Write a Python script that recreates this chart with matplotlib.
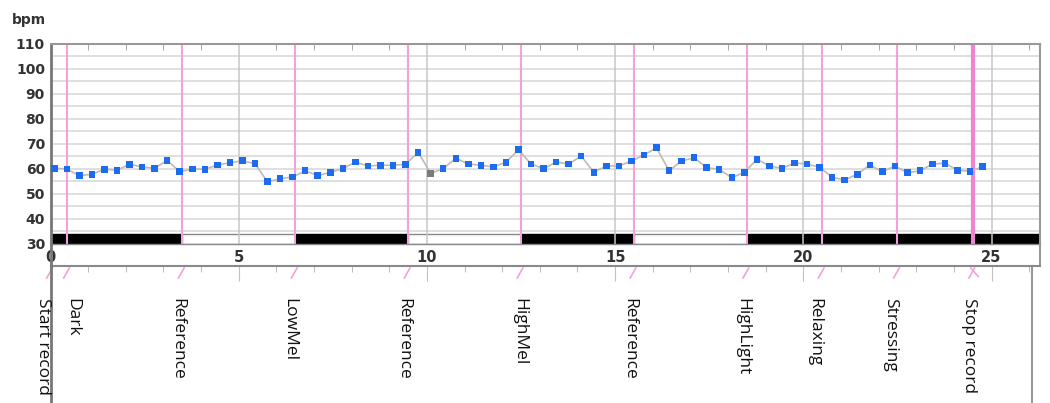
import numpy as np
import matplotlib
matplotlib.use('Agg')
import matplotlib.pyplot as plt
from matplotlib.lines import Line2D
from matplotlib.patches import Rectangle

# ---------------- data ----------------
bpm = [60.1, 59.8, 57.1, 57.7, 59.7, 59.3, 61.7, 60.6, 60.1, 63.3, 58.7, 59.8, 59.7, 61.4, 62.3, 63.1,
       61.9, 54.7, 55.9, 56.6, 59.1, 57.1, 58.5, 59.9, 62.6, 61.0, 61.3, 61.3, 61.7, 66.5, 58.1, 59.9,
       64.1, 61.8, 61.3, 60.6, 62.5, 67.5, 61.8, 59.9, 62.6, 61.8, 65.0, 58.5, 61.0, 61.0, 63.0, 65.4,
       68.3, 59.1, 63.0, 64.3, 60.3, 59.7, 56.3, 58.5, 63.7, 61.0, 60.1, 62.2, 61.8, 60.5, 56.5, 55.4,
       57.7, 61.4, 58.7, 61.0, 58.3, 59.1, 61.8, 62.1, 59.3, 58.9, 60.7]
t_start = 0.1          # minutes
t_step = 1.0 / 3.0     # one sample every 20 s
grey_index = 30        # the one grey (artefact) sample

event_names = ['Start record', 'Dark', 'Reference', 'LowMel', 'Reference', 'HighMel',
               'Reference', 'HighLight', 'Relaxing', 'Stressing', 'Stop record']
event_times = [0.0, 0.45, 3.5, 6.5, 9.5, 12.5, 15.5, 18.5, 20.5, 22.5, 24.5]

bar_starts = [0.0, 3.5, 6.5, 9.5, 12.5, 15.5, 18.5]
bar_ends = [3.5, 6.5, 9.5, 12.5, 15.5, 18.5, 26.3]
bar_colors = ['black', 'white', 'black', 'white', 'black', 'white', 'black']

x_ticks = [0, 5, 10, 15, 20, 25]
y_ticks = [30, 40, 50, 60, 70, 80, 90, 100, 110]

# ---------------- layout ----------------
W, H = 1050, 403
fig = plt.figure(figsize=(W / 100, H / 100), dpi=100)
fig.patch.set_facecolor('white')


def fx(px):
    return px / W


def fy(py):
    return 1 - py / H


PX_PER_MIN = 37.64
x0, x1 = 50.5, 1040.0
ytop, ybot = 43.5, 243.5

ax = fig.add_axes([fx(x0), fy(ybot), fx(x1 - x0), (ybot - ytop) / H])
ax.set_xlim(0, (x1 - x0) / PX_PER_MIN)
ax.set_ylim(30, 110)

# horizontal grid every 5
ax.set_yticks(y_ticks)
ax.set_yticks([v + 5 for v in y_ticks[:-1]], minor=True)
ax.grid(axis='y', which='both', color='#dcdcdc', lw=1.3, zorder=0)
ax.set_axisbelow(True)

# event bar
for s, e, c in zip(bar_starts, bar_ends, bar_colors):
    ax.add_patch(Rectangle((s, 30), e - s, 4, facecolor=c, edgecolor='#888888' if c == 'white' else 'black',
                           lw=1, zorder=1.5))

# vertical grey grid
for xt in x_ticks:
    ax.axvline(xt, color='#c8c8c8', lw=1.1, zorder=1.8)

# event lines
pink = '#f5a0da'
for name, t in zip(event_names[1:], event_times[1:]):
    if name == 'Stop record':
        ax.axvline(t, color='#ef84d2', lw=3, zorder=2)
    else:
        ax.axvline(t, color=pink, lw=1.5, zorder=2)

# data
times = t_start + t_step * np.arange(len(bpm))
ax.plot(times, bpm, color='#c2bab2', lw=1.2, zorder=3)
colors = ['#1c6cf0'] * len(bpm)
colors[grey_index] = '#7a7a7a'
ax.scatter(times, bpm, marker='s', s=22, c=colors, linewidths=0, zorder=4)

# ticks
ax.set_xticks(x_ticks)
ax.set_xticks(np.arange(1, 27), minor=True)
ax.tick_params(axis='x', which='major', length=0, pad=5, labelsize=10.5, labelcolor='#333333')
ax.tick_params(axis='x', which='minor', direction='in', length=4, color='#999999', top=True, bottom=True)
ax.tick_params(axis='y', which='both', length=0, pad=4, labelsize=10, labelcolor='#333333')
for lbl in ax.get_xticklabels() + ax.get_yticklabels():
    lbl.set_fontweight('bold')

ax.spines['left'].set_color('#777777')
ax.spines['left'].set_linewidth(2)
for side in ['top', 'right']:
    ax.spines[side].set_color('#999999')
    ax.spines[side].set_linewidth(1.5)
ax.spines['bottom'].set_color('#888888')
ax.spines['bottom'].set_linewidth(1)

fig.text(fx(12), fy(20), 'bpm', fontsize=10, fontweight='bold', color='#333333', ha='left', va='center')

# ---------------- lower event-label strip ----------------
lx1 = 1032.0
ltop = 266.0
axl = fig.add_axes([fx(x0), 0, fx(lx1 - x0), (H - ltop) / H])
axl.set_xlim(0, (lx1 - x0) / PX_PER_MIN)
axl.set_ylim(0, 1)
axl.set_facecolor('white')
axl.spines['bottom'].set_visible(False)
axl.spines['top'].set_color('#8a8a8a')
axl.spines['top'].set_linewidth(1.5)
axl.spines['left'].set_color('#777777')
axl.spines['left'].set_linewidth(2)
axl.spines['right'].set_color('#999999')
axl.spines['right'].set_linewidth(1.5)
axl.set_yticks([])
axl.xaxis.tick_top()
axl.set_xticks(x_ticks)
axl.set_xticks(np.arange(1, 27), minor=True)
axl.tick_params(axis='x', which='major', direction='in', length=11, color='#c0c0c0', labeltop=False, labelbottom=False)
axl.tick_params(axis='x', which='minor', direction='in', length=4, color='#b0b0b0')

label_x = [-0.2, 0.57, 3.36, 6.34, 9.37, 12.45, 15.37, 18.37, 20.3, 22.3, 24.4]
lab_y = 1 - (298 - ltop) / (H - ltop)
for name, t, lxp in zip(event_names, event_times, label_x):
    y_a = 1 - 2 / (H - ltop)
    y_b = 1 - 12 / (H - ltop)
    axl.plot([t + 0.05, t - 0.1], [y_a, y_b], color=pink, lw=1.2, clip_on=False)
    if name == 'Stop record':
        axl.plot([t - 0.05, t + 0.15], [y_a, y_b + 0.01], color=pink, lw=1.2, clip_on=False)
    axl.text(lxp, lab_y, name, rotation=270, ha='center', va='top', fontsize=12.5,
             family=['Open Sans', 'DejaVu Sans'], color='#111111', clip_on=False)

# connectors between the two panels
fig.add_artist(Line2D([fx(x0), fx(x0)], [fy(ybot), fy(ltop)], color='#777777', lw=2))
fig.add_artist(Line2D([fx(x1), fx(x1)], [fy(ybot), fy(ltop)], color='#999999', lw=1.5))
fig.add_artist(Line2D([fx(lx1), fx(x1)], [fy(ltop), fy(ltop)], color='#8a8a8a', lw=1.5))

fig.savefig('out.png', dpi=100, facecolor='white')
